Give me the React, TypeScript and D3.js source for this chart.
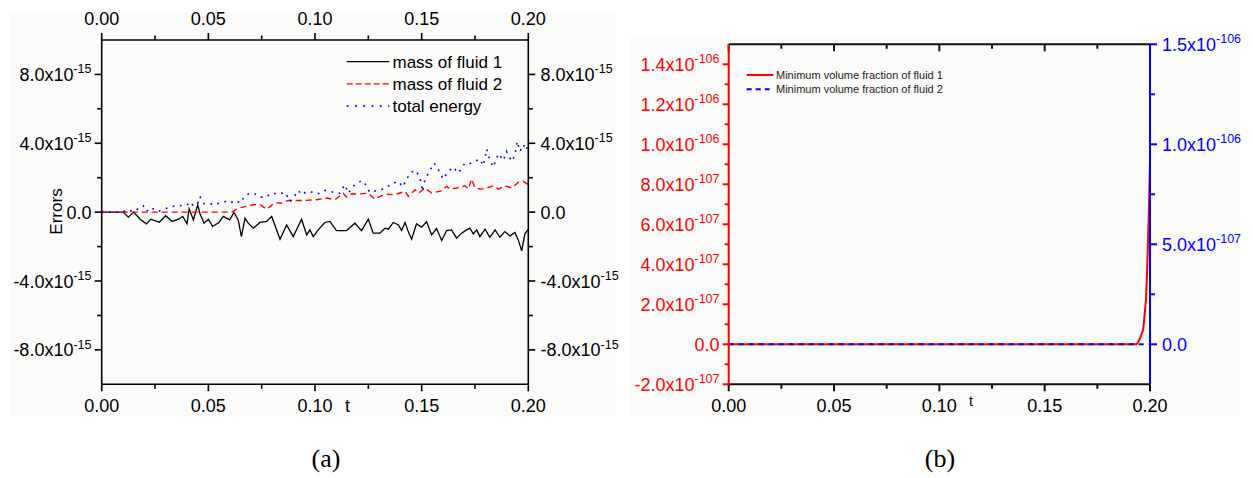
import React from "react";
import * as d3 from "d3";

// ---------- Panel (a): conservation errors (values in units of 1e-15) ----------
const tMass1 = [0, 0.010, 0.0125, 0.015, 0.018, 0.021, 0.023, 0.027, 0.030, 0.033, 0.036, 0.038, 0.040, 0.041, 0.043, 0.045, 0.046, 0.048, 0.050, 0.052, 0.055, 0.057, 0.060, 0.062, 0.064, 0.0655, 0.0672, 0.0687, 0.0711, 0.0742, 0.0773, 0.0797, 0.0836, 0.0867, 0.0898, 0.0937, 0.0961, 0.0976, 0.0992, 0.1015, 0.1046, 0.1070, 0.1101, 0.1148, 0.1187, 0.1218, 0.1250, 0.1273, 0.1304, 0.1328, 0.1344, 0.1367, 0.1391, 0.1406, 0.1422, 0.1437, 0.1453, 0.1476, 0.1500, 0.1523, 0.1547, 0.1570, 0.1594, 0.1617, 0.1640, 0.1664, 0.1687, 0.1711, 0.1726, 0.1742, 0.1758, 0.1773, 0.1797, 0.1820, 0.1844, 0.1867, 0.1890, 0.1914, 0.1937, 0.1953, 0.1969, 0.1984, 0.2];
const errMass1 = [0, 0, -0.29, 0, -0.41, -0.68, -0.41, -0.58, -0.21, -0.54, -0.41, -0.25, -0.68, 0.19, -0.45, 0.43, -0.06, -0.64, -0.41, -0.83, -0.6, -0.25, -0.45, -0.02, -0.45, -1.42, -0.35, -0.64, -0.93, -0.6, -0.54, -0.25, -1.57, -0.74, -1.42, -0.41, -1.32, -1.03, -1.42, -1.03, -0.6, -0.54, -1.07, -1.07, -0.64, -1.07, -0.41, -1.22, -1.22, -0.93, -0.99, -0.6, -0.74, -1.07, -0.6, -1.13, -1.57, -0.68, -0.87, -0.56, -1.32, -0.95, -1.65, -1.07, -1.03, -1.51, -1.22, -1.03, -0.93, -1.26, -1.03, -1.42, -0.99, -1.46, -1.03, -1.46, -1.13, -1.38, -1.18, -1.61, -2.25, -1.26, -1.0];

const tMass2 = [0, 0.02, 0.04, 0.055, 0.061, 0.064, 0.0711, 0.0742, 0.0773, 0.0812, 0.0843, 0.0875, 0.091, 0.0953, 0.1007, 0.1054, 0.1093, 0.1132, 0.1148, 0.1171, 0.1203, 0.125, 0.128, 0.1328, 0.137, 0.1422, 0.1437, 0.147, 0.1485, 0.1515, 0.1547, 0.1594, 0.1617, 0.1633, 0.1664, 0.1703, 0.1719, 0.1734, 0.175, 0.1781, 0.1805, 0.1836, 0.186, 0.189, 0.1922, 0.1953, 0.1977, 0.2];
const errMass2 = [0, 0, 0, 0, 0, 0.23, 0.43, 0.45, 0.17, 0.56, 0.52, 0.68, 0.68, 0.68, 0.72, 0.82, 0.72, 1.1, 0.87, 1.07, 1.05, 1.1, 0.76, 1.05, 1.01, 1.2, 0.91, 1.3, 1.1, 1.4, 1.11, 1.24, 1.5, 1.34, 1.4, 1.53, 1.34, 1.92, 1.4, 1.34, 1.4, 1.53, 1.34, 1.53, 1.4, 1.73, 1.79, 1.6];

const tEnergy = [0, 0.010, 0.0113, 0.015, 0.0195, 0.021, 0.023, 0.0265, 0.029, 0.032, 0.0351, 0.038, 0.040, 0.0414, 0.043, 0.045, 0.046, 0.048, 0.051, 0.053, 0.055, 0.058, 0.060, 0.063, 0.065, 0.067, 0.0695, 0.072, 0.0742, 0.077, 0.0797, 0.0828, 0.086, 0.0883, 0.0898, 0.0922, 0.0937, 0.0961, 0.099, 0.1015, 0.1046, 0.107, 0.109, 0.1117, 0.114, 0.1156, 0.1187, 0.1203, 0.1218, 0.1234, 0.1257, 0.1289, 0.132, 0.1363, 0.1391, 0.1411, 0.143, 0.1449, 0.1473, 0.1492, 0.1504, 0.1515, 0.1539, 0.1558, 0.1586, 0.1601, 0.1625, 0.1648, 0.1672, 0.1703, 0.1726, 0.175, 0.1773, 0.1789, 0.1805, 0.182, 0.1836, 0.186, 0.1883, 0.1898, 0.1922, 0.1937, 0.1948, 0.1961, 0.1977, 0.1989, 0.2];
const errEnergy = [0, 0, 0.14, 0.04, 0.37, 0.04, 0.27, 0.04, 0.17, 0.29, 0.39, 0.39, 0.41, 0.6, 0.37, 0.49, 0.91, 0.49, 0.49, 0.43, 0.52, 0.62, 0.52, 0.68, 0.52, 0.93, 1.1, 1.05, 0.87, 0.87, 1.1, 1.05, 1.15, 0.62, 0.82, 1.26, 1.01, 1.2, 1.16, 1.07, 1.26, 1.17, 1.17, 1.1, 1.6, 1.1, 1.6, 1.69, 1.84, 1.65, 1.15, 1.26, 1.34, 1.65, 1.79, 1.46, 1.92, 2.31, 2.43, 1.98, 1.2, 1.88, 2.43, 2.85, 2.31, 1.92, 2.37, 2.62, 2.27, 2.85, 2.82, 2.95, 3.09, 2.7, 3.67, 3.0, 2.62, 3.4, 3.0, 3.53, 2.95, 3.28, 4.12, 3.53, 3.92, 3.59, 3.92];

const legendA = ["mass of fluid 1", "mass of fluid 2", "total energy"];
const xTicks = [0, 0.05, 0.1, 0.15, 0.2];
const xTickLabels = ["0.00", "0.05", "0.10", "0.15", "0.20"];
const xMinorTicks = [0.025, 0.075, 0.125, 0.175];
const yTicksA = [-8, -4, 0, 4, 8];
const yTickBaseA = ["-8.0x10", "-4.0x10", "0.0", "4.0x10", "8.0x10"];
const yTickExpA = ["-15", "-15", "", "-15", "-15"];
const yMinorA = [-6, -2, 2, 6];

// ---------- Panel (b): minimum volume fractions (values in units of 1e-107) ----------
const tFrac1 = [0, 0.05, 0.1, 0.15, 0.19, 0.1935, 0.1943, 0.1955, 0.1968, 0.1981, 0.1987, 0.1994, 0.2];
const minFrac1 = [0, 0, 0, 0, 0, 0, 0.1, 0.35, 0.75, 2.25, 3.9, 6.4, 9.1];
const tFrac2 = [0, 0.2];
const minFrac2 = [0, 0];
const legendB = ["Minimum volume fraction of fluid 1", "Minimum volume fraction of fluid 2"];
const yTicksBL = [-2, 0, 2, 4, 6, 8, 10, 12, 14];
const yTickBaseBL = ["-2.0x10", "0.0", "2.0x10", "4.0x10", "6.0x10", "8.0x10", "1.0x10", "1.2x10", "1.4x10"];
const yTickExpBL = ["-107", "", "-107", "-107", "-107", "-107", "-106", "-106", "-106"];
const yMinorBL = [-1, 1, 3, 5, 7, 9, 11, 13];
const yTicksBR = [0, 5, 10, 15];
const yTickBaseBR = ["0.0", "5.0x10", "1.0x10", "1.5x10"];
const yTickExpBR = ["", "-107", "-106", "-106"];
const yMinorBR = [2.5, 7.5, 12.5];

const FONT = "'Liberation Sans', Arial, Helvetica, sans-serif";
const SERIF = "'Liberation Serif', 'Times New Roman', serif";

function Sci({ x, y, base, exp, anchor, fill }: any) {
  return (
    <text x={x} y={y} textAnchor={anchor} fill={fill} fontFamily={FONT} fontSize={18}>
      {base}
      {exp ? (
        <tspan dy={-7.5} fontSize={12.5}>
          {exp}
        </tspan>
      ) : null}
    </text>
  );
}

export default function App() {
  const xA = d3.scaleLinear().domain([0, 0.2]).range([101.7, 528.3]);
  const yA = d3.scaleLinear().domain([-10, 10]).range([384.3, 40]);
  const xB = d3.scaleLinear().domain([0, 0.2]).range([728.7, 1150]);
  const yBL = d3.scaleLinear().domain([-2, 15]).range([384.3, 44.3]);
  const yBR = d3.scaleLinear().domain([-2, 15]).range([384.3, 44.3]);

  const mk = (xs: d3.ScaleLinear<number, number>, ys: d3.ScaleLinear<number, number>, t: number[], v: number[]) =>
    d3
      .line<number>()
      .x((_, i) => xs(t[i]))
      .y((d) => ys(d))(v) as string;

  const [ax0, ax1] = xA.range();
  const [ay1, ay0] = yA.range();
  const [bx0, bx1] = xB.range();
  const [by1, by0] = yBL.range();

  return (
    <svg width={1253} height={478} style={{ position: "absolute", left: 0, top: 0, background: "#fff" }}>
      <rect x={10} y={12} width={606} height={404} fill="#fbfbfa" />
      <rect x={630} y={37} width={610} height={379} fill="#fbfbfa" />

      {/* ================= Panel (a) ================= */}
      <path d={mk(xA, yA, tMass1, errMass1)} fill="none" stroke="#000" strokeWidth={1.3} />
      <path d={mk(xA, yA, tMass2, errMass2)} fill="none" stroke="#ff0000" strokeWidth={1.4} strokeDasharray="6,4" />
      <path d={mk(xA, yA, tEnergy, errEnergy)} fill="none" stroke="#0000ff" strokeWidth={1.6} strokeDasharray="1.8,5.5" />

      <g stroke="#000" strokeWidth={1.6} fill="none">
        <line x1={ax0} x2={ax1} y1={ay0} y2={ay0} />
        <line x1={ax0} x2={ax1} y1={ay1} y2={ay1} />
        <line x1={ax0} x2={ax0} y1={ay0} y2={ay1} />
        <line x1={ax1} x2={ax1} y1={ay0} y2={ay1} />
        {xTicks.map((t) => (
          <g key={"xa" + t}>
            <line x1={xA(t)} x2={xA(t)} y1={ay0} y2={ay0 - 7} />
            <line x1={xA(t)} x2={xA(t)} y1={ay1} y2={ay1 + 7} />
          </g>
        ))}
        {xMinorTicks.map((t) => (
          <g key={"xma" + t}>
            <line x1={xA(t)} x2={xA(t)} y1={ay0} y2={ay0 - 4.5} />
            <line x1={xA(t)} x2={xA(t)} y1={ay1} y2={ay1 + 4.5} />
          </g>
        ))}
        {yTicksA.map((v) => (
          <g key={"ya" + v}>
            <line x1={ax0} x2={ax0 - 7} y1={yA(v)} y2={yA(v)} />
            <line x1={ax1} x2={ax1 + 7} y1={yA(v)} y2={yA(v)} />
          </g>
        ))}
        {yMinorA.map((v) => (
          <g key={"yma" + v}>
            <line x1={ax0} x2={ax0 - 4.5} y1={yA(v)} y2={yA(v)} />
            <line x1={ax1} x2={ax1 + 4.5} y1={yA(v)} y2={yA(v)} />
          </g>
        ))}
      </g>
      {xTicks.map((t, i) => (
        <g key={"xla" + t}>
          <text x={xA(t)} y={25} textAnchor="middle" fontFamily={FONT} fontSize={18}>
            {xTickLabels[i]}
          </text>
          <text x={xA(t)} y={411.7} textAnchor="middle" fontFamily={FONT} fontSize={18}>
            {xTickLabels[i]}
          </text>
        </g>
      ))}
      {yTicksA.map((v, i) => (
        <g key={"yla" + v}>
          <Sci x={91.5} y={yA(v) + 6.5} base={yTickBaseA[i]} exp={yTickExpA[i]} anchor="end" fill="#000" />
          <Sci x={540.5} y={yA(v) + 6.5} base={yTickBaseA[i]} exp={yTickExpA[i]} anchor="start" fill="#000" />
        </g>
      ))}
      <text x={345} y={411.7} fontFamily={FONT} fontSize={18}>t</text>
      <text transform="translate(61.5,211.5) rotate(-90)" textAnchor="middle" fontFamily={FONT} fontSize={17}>
        Errors
      </text>

      {legendA.map((name, i) => {
        const y = 61.7 + i * 22.2;
        const styles = [
          { stroke: "#000", dash: undefined, w: 1.3 },
          { stroke: "#ff0000", dash: "6,3", w: 1.3 },
          { stroke: "#0000ff", dash: "1.8,6.5", w: 1.6 },
        ][i];
        return (
          <g key={name}>
            <line x1={346.7} x2={389.3} y1={y} y2={y} stroke={styles.stroke} strokeWidth={styles.w} strokeDasharray={styles.dash} />
            <text x={392.5} y={y + 6} fontFamily={FONT} fontSize={17}>
              {name}
            </text>
          </g>
        );
      })}

      <text x={326} y={467} textAnchor="middle" fontFamily={SERIF} fontSize={26}>
        (a)
      </text>

      {/* ================= Panel (b) ================= */}
      <path d={mk(xB, yBL, tFrac1, minFrac1)} fill="none" stroke="#ff0000" strokeWidth={2} />
      <path d={mk(xB, yBR, tFrac2, minFrac2)} fill="none" stroke="#0000ff" strokeWidth={2} strokeDasharray="5,5" />

      <g stroke="#111" strokeWidth={2} fill="none">
        <line x1={bx0} x2={bx1} y1={by0} y2={by0} />
        <line x1={bx0} x2={bx1} y1={by1} y2={by1} />
        {xTicks.map((t) => (
          <g key={"xb" + t}>
            <line x1={xB(t)} x2={xB(t)} y1={by0} y2={by0 + 7} />
            <line x1={xB(t)} x2={xB(t)} y1={by1} y2={by1 + 7} />
          </g>
        ))}
        {xMinorTicks.map((t) => (
          <g key={"xmb" + t}>
            <line x1={xB(t)} x2={xB(t)} y1={by0} y2={by0 + 4.5} />
            <line x1={xB(t)} x2={xB(t)} y1={by1} y2={by1 + 4.5} />
          </g>
        ))}
      </g>
      <g stroke="#ff0000" strokeWidth={2} fill="none">
        <line x1={bx0} x2={bx0} y1={by0} y2={by1} />
        {yTicksBL.map((v) => (
          <line key={"ybl" + v} x1={bx0} x2={bx0 - 6} y1={yBL(v)} y2={yBL(v)} />
        ))}
        {yMinorBL.map((v) => (
          <line key={"ymbl" + v} x1={bx0} x2={bx0 - 4} y1={yBL(v)} y2={yBL(v)} />
        ))}
      </g>
      <g stroke="#0000ff" strokeWidth={2} fill="none">
        <line x1={bx1} x2={bx1} y1={by0} y2={by1} />
        {yTicksBR.map((v) => (
          <line key={"ybr" + v} x1={bx1} x2={bx1 + 7} y1={yBR(v)} y2={yBR(v)} />
        ))}
        {yMinorBR.map((v) => (
          <line key={"ymbr" + v} x1={bx1} x2={bx1 + 5} y1={yBR(v)} y2={yBR(v)} />
        ))}
      </g>
      {xTicks.map((t, i) => (
        <text key={"xlb" + t} x={xB(t)} y={411.7} textAnchor="middle" fontFamily={FONT} fontSize={18}>
          {xTickLabels[i]}
        </text>
      ))}
      {yTicksBL.map((v, i) => (
        <Sci key={"ylbl" + v} x={719.5} y={yBL(v) + 6.5} base={yTickBaseBL[i]} exp={yTickExpBL[i]} anchor="end" fill="#ff0000" />
      ))}
      {yTicksBR.map((v, i) => (
        <Sci key={"ylbr" + v} x={1162} y={yBR(v) + 6.5} base={yTickBaseBR[i]} exp={yTickExpBR[i]} anchor="start" fill="#0000ff" />
      ))}
      <text x={969} y={406} fontFamily={FONT} fontSize={14}>t</text>

      {legendB.map((name, i) => {
        const y = 75 + i * 14.3;
        return (
          <g key={name}>
            <line
              x1={746.7}
              x2={773.3}
              y1={y}
              y2={y}
              stroke={i === 0 ? "#ff0000" : "#0000ff"}
              strokeWidth={2}
              strokeDasharray={i === 0 ? undefined : "5,4"}
            />
            <text x={776} y={y + 4} fontFamily={FONT} fontSize={11} fill="#222">
              {name}
            </text>
          </g>
        );
      })}

      <text x={940} y={467} textAnchor="middle" fontFamily={SERIF} fontSize={26}>
        (b)
      </text>
    </svg>
  );
}
